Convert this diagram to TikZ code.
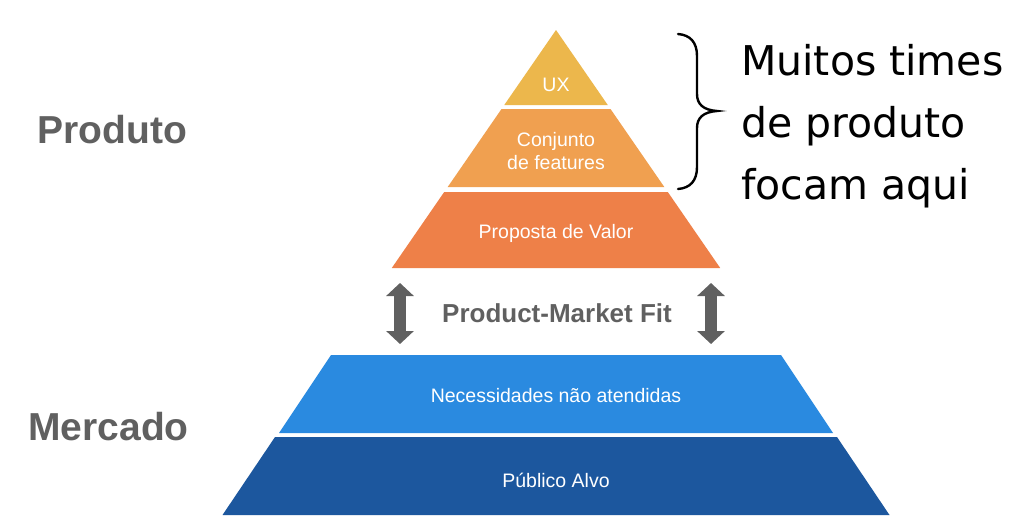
\documentclass[tikz,border=0pt]{standalone}
\usepackage{fontspec}
\setmainfont{Liberation Sans}
\newfontfamily\notefont{DejaVu Sans}
\usetikzlibrary{arrows.meta}
\definecolor{cux}{RGB}{236,183,76}
\definecolor{cfeat}{RGB}{240,160,80}
\definecolor{cprop}{RGB}{238,128,72}
\definecolor{cneed}{RGB}{42,138,224}
\definecolor{cpub}{RGB}{28,87,158}
\definecolor{cgray}{RGB}{96,96,96}
\tikzset{
  band/.style={inner sep=0pt, anchor=base, text=white, font=\fontsize{19.5}{24}\selectfont},
  side/.style={inner sep=0pt, anchor=base, text=cgray, font=\fontsize{39}{44}\selectfont\bfseries},
  note/.style={inner sep=0pt, anchor=base west, text=black, font=\fontsize{41}{52}\notefont},
  fitarrow/.style={draw=cgray, line width=12pt, {Triangle[width=27pt,length=13pt]}-{Triangle[width=27pt,length=13pt]}},
}
\begin{document}
\begin{tikzpicture}[x=1pt,y=-1pt]
\useasboundingbox[fill=white] (0,0) rectangle (1024,522);
% orange pyramid
\fill[cux] (556,30) -- (607.75,105) -- (504.25,105) -- cycle;
\fill[cfeat] (501.5,109) -- (610.5,109) -- (664.3,187) -- (447.7,187) -- cycle;
\fill[cprop] (444.2,192) -- (667.8,192) -- (720.2,268) -- (391.8,268) -- cycle;
% blue trapezoids
\fill[cneed] (331,355) -- (781,355) -- (833,433) -- (279,433) -- cycle;
\fill[cpub] (275,437) -- (837,437) -- (889.5,515) -- (222.5,515) -- cycle;
% band labels
\node[band] (ux) at (556,91) {UX};
\node[band] (feat1) at (556,146) {Conjunto};
\node[band] (feat2) at (556,169) {de features};
\node[band] (prop) at (556,238) {Proposta de Valor};
\node[band] (need) at (556,402) {Necessidades não atendidas};
\node[band] (pub) at (556,487) {Público Alvo};
% side labels
\node[side] (produto) at (112.5,143) {Produto};
\node[side] (mercado) at (108.5,440) {Mercado};
% product-market fit
\node[inner sep=0pt, anchor=base, text=cgray, font=\fontsize{26}{30}\selectfont\bfseries] (pmf) at (557,322) {Product-Market Fit};
\coordinate (la) at (400,283);
\coordinate (lb) at (400,344);
\coordinate (ra) at (711,283);
\coordinate (rb) at (711,344);
\draw[fitarrow] (la) -- (lb);
\draw[fitarrow] (ra) -- (rb);
% brace
\coordinate (bt) at (678,34);
\coordinate (bb) at (678,189);
\draw[line width=2.4pt, line cap=round, black]
  (bt) .. controls (690,35) and (697,42) .. (697,56)
  -- (697,94) .. controls (697,104) and (703,110) .. (717,111)
  .. controls (703,112) and (697,118) .. (697,128)
  -- (697,167) .. controls (697,181) and (690,188) .. (bb);
% note text
\node[note] (m1) at (741,75) {Muitos times};
\node[note] (m2) at (741,137) {de produto};
\node[note] (m3) at (741,199) {focam aqui};
\end{tikzpicture}
\end{document}
